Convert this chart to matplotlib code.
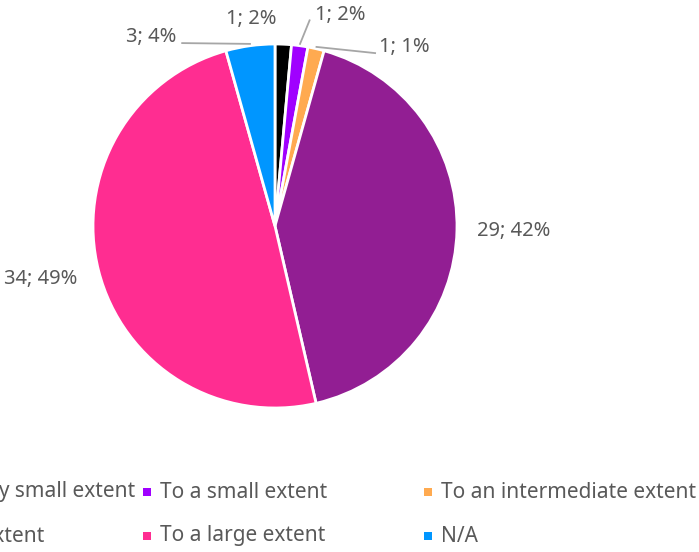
import matplotlib

matplotlib.use("Agg")
import matplotlib.pyplot as plt
from matplotlib.patches import Rectangle
import numpy as np

# data
categories = [
    "To a very small extent",
    "To a small extent",
    "To an intermediate extent",
    "To no extent",
    "To a large extent",
    "N/A",
]
counts = [1, 1, 1, 29, 34, 3]
pct_labels = ["2%", "2%", "1%", "42%", "49%", "4%"]
colors = ["#000000", "#A000FF", "#FFAA50", "#921E93", "#FF2D91", "#0096FF"]

# label placement (pie radius = 1) and leader line ends
label_pos = [(-0.13, 1.14), (0.36, 1.16), (0.71, 0.985), (1.31, -0.03), (-1.29, -0.29), (-0.68, 1.04)]
leader_end = [None, (0.19, 1.13), (0.55, 0.95), None, None, (-0.51, 1.005)]

TEXT = "#595959"
plt.rcParams["font.family"] = ["Noto Sans", "DejaVu Sans"]

W, H = 699, 552
fig = plt.figure(figsize=(W / 100, H / 100), dpi=100)
ax = fig.add_axes([93 / W, 144 / H, 364 / W, 364 / H])

wedges, _ = ax.pie(
    counts,
    colors=colors,
    startangle=90,
    counterclock=False,
    radius=1,
    wedgeprops=dict(edgecolor="white", linewidth=2),
)
ax.set_xlim(-1, 1)
ax.set_ylim(-1, 1)
ax.axis("off")

for i, w in enumerate(wedges):
    ax.text(*label_pos[i], f"{counts[i]}; {pct_labels[i]}", ha="center", va="center",
            fontsize=14.5, color=TEXT, clip_on=False)
    if leader_end[i] is not None:
        mid = np.deg2rad((w.theta1 + w.theta2) / 2)
        ax.plot([np.cos(mid) * 1.01, leader_end[i][0]], [np.sin(mid) * 1.01, leader_end[i][1]],
                color="#A6A6A6", lw=1.3, clip_on=False)

# legend, 3 columns x 2 rows
col_x = [-92, 147, 428]
row_y = [492, 536]
for i, (lab, c) in enumerate(zip(categories, colors)):
    x = col_x[i % 3]
    y = row_y[i // 3]
    fig.add_artist(Rectangle(((x - 4) / W, 1 - (y + 4) / H), 8 / W, 8 / H,
                             transform=fig.transFigure, color=c, lw=0))
    fig.text((x + 13) / W, 1 - y / H, lab, ha="left", va="center", fontsize=15, color=TEXT)

fig.savefig("out.png", dpi=100)
